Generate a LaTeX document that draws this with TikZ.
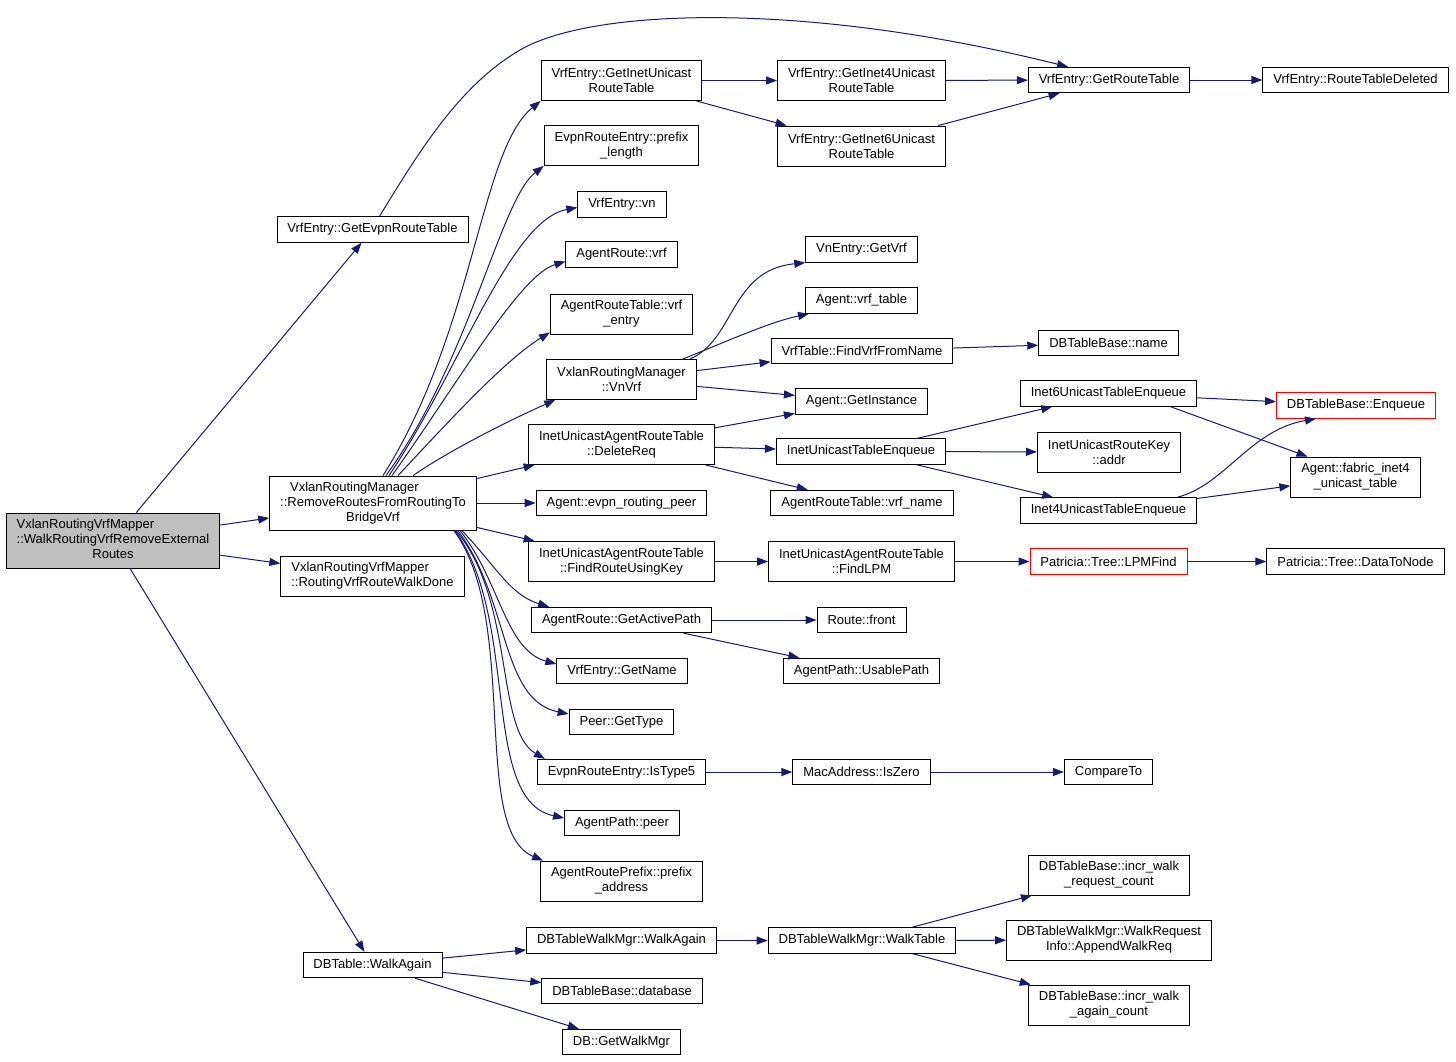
\documentclass[tikz,border=0pt]{standalone}
\usepackage{fontspec}
\setmainfont{Liberation Sans}
\usetikzlibrary{arrows.meta}
\definecolor{edgeblue}{HTML}{191970}
\definecolor{rootgrey}{HTML}{BFBFBF}
\tikzset{
  fnbox/.style={draw=black, line width=0.9pt, fill=white, inner xsep=10.5pt, inner ysep=2pt,
    minimum height=25.5pt, align=center, font=\fontsize{13}{15}\selectfont},
  fnbox2/.style={fnbox, minimum height=40pt},
  redbox/.style={fnbox, draw=red},
  call/.style={draw=edgeblue, line width=1pt, -{Triangle[length=11pt,width=8pt]}}
}

\begin{document}
\begin{tikzpicture}[x=1pt,y=-1pt]
            \useasboundingbox (0,0) rectangle (1456,1061);

            % Column 1: the function itself
            \node[fnbox, fill=rootgrey, minimum height=55pt] (root) at (113,540.5) {\begin{tabular}{@{}l@{}}VxlanRoutingVrfMapper\\::WalkRoutingVrfRemoveExternal\\\multicolumn{1}{@{}c@{}}{Routes}\end{tabular}};

            % Column 2
            \node[fnbox, minimum height=54pt] (rrf) at (373,503) {\begin{tabular}{@{}l@{}}\hspace*{10pt}VxlanRoutingManager\\::RemoveRoutesFromRoutingTo\\\multicolumn{1}{@{}c@{}}{BridgeVrf}\end{tabular}};
            \node[fnbox2] (walkdone) at (372.5,576) {\begin{tabular}{@{}l@{}}VxlanRoutingVrfMapper\\::RoutingVrfRouteWalkDone\end{tabular}};
            \node[fnbox] (evpnrt) at (372.5,229.5) {VrfEntry::GetEvpnRouteTable};
            \node[fnbox] (dbwalk) at (372.5,965) {DBTable::WalkAgain};

            % Column 3
            \node[fnbox2] (inetuc) at (621.5,80.5) {VrfEntry::GetInetUnicast\\RouteTable};
            \node[fnbox2] (pfxlen) at (621.5,145.5) {EvpnRouteEntry::prefix\\\_length};
            \node[fnbox] (vrfvn) at (622,204.5) {VrfEntry::vn};
            \node[fnbox] (rtvrf) at (621.5,254.5) {AgentRoute::vrf};
            \node[fnbox2] (rtblvrf) at (621.5,314) {AgentRouteTable::vrf\\\_entry};
            \node[fnbox2] (vnvrf) at (621.5,379.5) {VxlanRoutingManager\\::VnVrf};
            \node[fnbox2] (delreq) at (621.5,444.5) {InetUnicastAgentRouteTable\\::DeleteReq};
            \node[fnbox] (evpnpeer) at (621.5,503) {Agent::evpn\_routing\_peer};
            \node[fnbox2] (findkey) at (621.5,561.5) {InetUnicastAgentRouteTable\\::FindRouteUsingKey};
            \node[fnbox] (activepath) at (621.5,620) {AgentRoute::GetActivePath};
            \node[fnbox] (getname) at (622,671) {VrfEntry::GetName};
            \node[fnbox] (gettype) at (621.5,722) {Peer::GetType};
            \node[fnbox] (istype5) at (621.5,772) {EvpnRouteEntry::IsType5};
            \node[fnbox] (pathpeer) at (622,823) {AgentPath::peer};
            \node[fnbox2] (pfxaddr) at (621.5,881) {AgentRoutePrefix::prefix\\\_address};
            \node[fnbox] (mgrwalk) at (621.5,940.5) {DBTableWalkMgr::WalkAgain};
            \node[fnbox] (database) at (622,991) {DBTableBase::database};
            \node[fnbox] (getwalkmgr) at (621.5,1042) {DB::GetWalkMgr};

            % Column 4
            \node[fnbox2] (inet4rt) at (861.5,80.5) {VrfEntry::GetInet4Unicast\\RouteTable};
            \node[fnbox2] (inet6rt) at (861.5,146) {VrfEntry::GetInet6Unicast\\RouteTable};
            \node[fnbox] (vngetvrf) at (861.5,249.5) {VnEntry::GetVrf};
            \node[fnbox] (vrftable) at (861.5,300.5) {Agent::vrf\_table};
            \node[fnbox] (findvrf) at (862,351) {VrfTable::FindVrfFromName};
            \node[fnbox] (getinst) at (861.5,401.5) {Agent::GetInstance};
            \node[fnbox] (inetenq) at (861,451.5) {InetUnicastTableEnqueue};
            \node[fnbox] (vrfname) at (862,503) {AgentRouteTable::vrf\_name};
            \node[fnbox2] (findlpm) at (861.5,561.5) {InetUnicastAgentRouteTable\\::FindLPM};
            \node[fnbox] (routefront) at (861.5,620) {Route::front};
            \node[fnbox] (usablepath) at (861.5,671) {AgentPath::UsablePath};
            \node[fnbox] (iszero) at (861.5,772) {MacAddress::IsZero};
            \node[fnbox] (walktable) at (862,940.5) {DBTableWalkMgr::WalkTable};

            % Column 5
            \node[fnbox] (routetbl) at (1109,80) {VrfEntry::GetRouteTable};
            \node[fnbox] (tblname) at (1108.5,343) {DBTableBase::name};
            \node[fnbox] (inet6enq) at (1108.5,393.5) {Inet6UnicastTableEnqueue};
            \node[fnbox2] (ucaddr) at (1109,452) {InetUnicastRouteKey\\::addr};
            \node[fnbox] (inet4enq) at (1108.5,510.5) {Inet4UnicastTableEnqueue};
            \node[redbox] (lpmfind) at (1108.5,561.5) {Patricia::Tree::LPMFind};
            \node[fnbox] (compareto) at (1108.5,772) {CompareTo};
            \node[fnbox2] (reqcount) at (1109,875) {DBTableBase::incr\_walk\\\_request\_count};
            \node[fnbox2] (appendreq) at (1109,940) {DBTableWalkMgr::WalkRequest\\Info::AppendWalkReq};
            \node[fnbox2] (againcount) at (1109,1005) {DBTableBase::incr\_walk\\\_again\_count};

            % Column 6
            \node[fnbox] (rtdeleted) at (1355.5,80) {VrfEntry::RouteTableDeleted};
            \node[redbox] (enqueue) at (1356,405.5) {DBTableBase::Enqueue};
            \node[fnbox2] (fabric) at (1355.5,477) {Agent::fabric\_inet4\\\_unicast\_table};
            \node[fnbox] (datatonode) at (1355.5,561.5) {Patricia::Tree::DataToNode};

            % Straight calls
            \foreach \a/\b in {root/rrf, root/walkdone, root/evpnrt, root/dbwalk,
                rrf/delreq, rrf/evpnpeer, rrf/findkey,
                inetuc/inet4rt, inetuc/inet6rt, inet4rt/routetbl, inet6rt/routetbl, routetbl/rtdeleted,
                vnvrf/findvrf, vnvrf/getinst, findvrf/tblname,
                delreq/getinst, delreq/inetenq, delreq/vrfname,
                inetenq/inet6enq, inetenq/ucaddr, inetenq/inet4enq,
                inet6enq/enqueue, inet4enq/fabric,
                findkey/findlpm, findlpm/lpmfind, lpmfind/datatonode,
                activepath/routefront, activepath/usablepath,
                istype5/iszero, iszero/compareto,
                dbwalk/mgrwalk, dbwalk/database, dbwalk/getwalkmgr,
                mgrwalk/walktable, walktable/reqcount, walktable/appendreq, walktable/againcount}
                \draw[call] (\a) -- (\b);
            \draw[call] ([xshift=62pt]inet6enq.south) -- ([xshift=-48pt]fabric.north);

            % Long curve over the top
            \draw[call] ([xshift=7pt]evpnrt.north) .. controls (420,150) and (460,85) .. (520,50)
                .. controls (590,9) and (800,0) .. ([xshift=-41pt]routetbl.north);

            % Fan upwards out of rrf
            \draw[call] ([xshift=10pt]rrf.north) .. controls (475,330) and (480,150) .. (inetuc.south west);
            \draw[call] ([xshift=13pt]rrf.north) .. controls (470,360) and (500,200) .. (pfxlen.south west);
            \draw[call] ([xshift=16pt]rrf.north) .. controls (460,370) and (510,220) .. ([yshift=-3pt]vrfvn.west);
            \draw[call] ([xshift=19pt]rrf.north) .. controls (460,380) and (520,275) .. ([yshift=-7pt]rtvrf.west);
            \draw[call] ([xshift=25pt]rrf.north) .. controls (450,420) and (505,360) .. ([yshift=2pt]rtblvrf.south west);
            \draw[call] ([xshift=40pt]rrf.north) .. controls (450,450) and (510,420) .. ([xshift=9pt]vnvrf.south west);

            % Fan downwards out of rrf
            \draw[call] ([xshift=-15pt]rrf.south east) .. controls (495,565) and (510,595) .. ([xshift=18pt]activepath.north west);
            \draw[call] ([xshift=-17pt]rrf.south east) .. controls (500,580) and (505,650) .. ([yshift=7pt]getname.west);
            \draw[call] ([xshift=-19pt]rrf.south east) .. controls (510,600) and (500,700) .. ([yshift=8pt]gettype.west);
            \draw[call] ([xshift=-21pt]rrf.south east) .. controls (515,600) and (495,730) .. ([xshift=8pt]istype5.north west);
            \draw[call] ([xshift=-22pt]rrf.south east) .. controls (520,620) and (480,800) .. ([yshift=5pt]pathpeer.west);
            \draw[call] ([xshift=-23pt]rrf.south east) .. controls (520,620) and (470,830) .. ([xshift=3pt]pfxaddr.north west);

            % Curves out of vnvrf and inet4enq
            \draw[call] ([xshift=-7pt]vnvrf.north east) .. controls (735,340) and (730,270) .. (vngetvrf.south west);
            \draw[call] ([xshift=-14pt]vnvrf.north east) .. controls (730,340) and (770,322) .. ([xshift=4pt]vrftable.south west);
            \draw[call] ([xshift=-20pt]inet4enq.north east) .. controls (1225,485) and (1250,430) .. ([xshift=-40pt]enqueue.south);
        \end{tikzpicture}
\end{document}
